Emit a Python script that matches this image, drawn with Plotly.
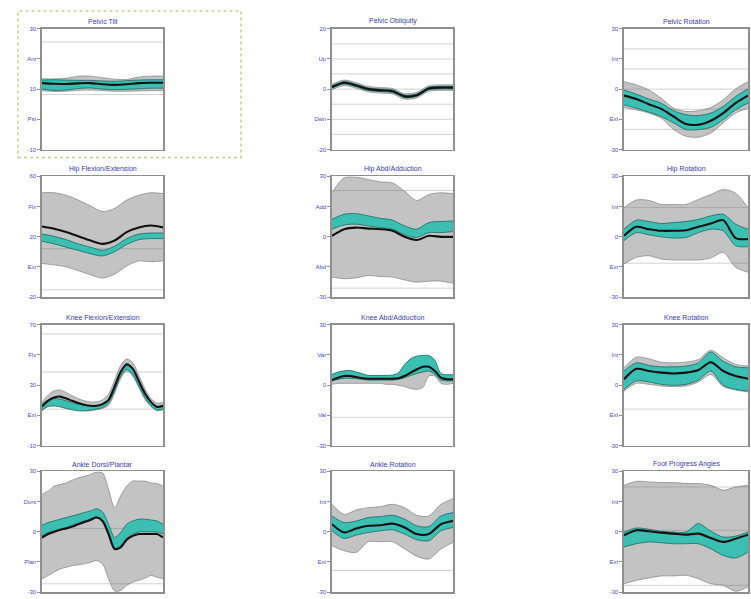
import plotly.graph_objects as go

# ---------------- x grids (% gait cycle) ----------------
x10 = [0, 10, 20, 30, 40, 50, 60, 70, 80, 90, 100]
x5 = [0, 5, 10, 15, 20, 25, 30, 35, 40, 45, 50, 55, 60, 65, 70, 75, 80, 85, 90, 95, 100]

titles = ["Pelvic Tilt", "Pelvic Obliquity", "Pelvic Rotation",
          "Hip Flexion/Extension", "Hip Abd/Adduction", "Hip Rotation",
          "Knee Flexion/Extension", "Knee Abd/Adduction", "Knee Rotation",
          "Ankle Dorsi/Plantar", "Ankle Rotation", "Foot Progress Angles"]

# ---------------- 1 Pelvic Tilt ----------------
tilt_range = [-10, 30]
tilt_ticktext = ["-10", "Pst", "10", "Ant", "30"]
tilt_grid = [25.6, 8.2]
tilt_gray_hi = [13.4, 13.4, 13.6, 14.3, 14.3, 13.8, 13.3, 13.2, 14.0, 14.3, 14.3]
tilt_gray_lo = [9.5, 9.2, 9.3, 9.6, 9.7, 9.5, 9.3, 9.3, 9.4, 9.5, 9.5]
tilt_teal_hi = [13.0, 13.1, 13.0, 12.9, 12.9, 12.7, 12.6, 12.8, 13.0, 13.1, 13.1]
tilt_teal_lo = [10.0, 9.6, 9.7, 10.2, 10.4, 10.0, 9.8, 9.9, 10.1, 10.3, 10.3]
tilt_mean = [12.0, 11.8, 11.7, 11.9, 12.0, 11.6, 11.4, 11.6, 12.0, 12.1, 12.1]

# ---------------- 2 Pelvic Obliquity ----------------
pobl_range = [-20, 20]
pobl_ticktext = ["-20", "Dwn", "0", "Up", "20"]
pobl_grid = [-15, -10, -5, 0, 5, 10, 15]
pobl_gray_hi = [1.6, 3.0, 2.1, 0.9, 0.5, 0.2, -1.5, -1.1, 1.1, 1.4, 1.4]
pobl_gray_lo = [-0.2, 1.2, 0.3, -0.9, -1.3, -1.6, -3.3, -2.9, -0.7, -0.4, -0.4]
pobl_teal_hi = [1.1, 2.5, 1.6, 0.4, 0.0, -0.3, -2.0, -1.6, 0.6, 0.9, 0.9]
pobl_teal_lo = [0.3, 1.7, 0.8, -0.4, -0.8, -1.1, -2.8, -2.4, -0.2, 0.1, 0.1]
pobl_mean = [0.7, 2.1, 1.2, 0.0, -0.4, -0.7, -2.4, -2.0, 0.2, 0.5, 0.5]

# ---------------- 3 Pelvic Rotation ----------------
prot_range = [-30, 30]
prot_ticktext = ["-30", "Ext", "0", "Int", "30"]
prot_grid = [-20, -10, 0, 10, 20]
prot_gray_hi = [3.7, 2.1, -0.4, -4.5, -9.5, -11.1, -10.7, -9.1, -5.3, 0.1, 3.7]
prot_gray_lo = [-9.1, -10.3, -11.9, -14.4, -20.1, -23.4, -23.9, -21.8, -16.8, -11.9, -9.5]
prot_teal_hi = [-0.4, -2.5, -4.9, -7.0, -10.7, -12.7, -13.1, -11.9, -8.6, -3.7, 0.1]
prot_teal_lo = [-7.8, -9.5, -11.4, -13.6, -16.8, -20.1, -20.1, -19.0, -15.2, -10.3, -7.0]
prot_mean = [-3.2, -4.9, -7.5, -9.8, -13.6, -17.3, -17.7, -15.7, -11.9, -6.9, -3.2]

# ---------------- 4 Hip Flexion/Extension ----------------
hflex_range = [-20, 60]
hflex_ticktext = ["-20", "Ext", "20", "Flx", "60"]
hflex_grid = [12.0, -15.2]
hflex_gray_hi = [49.1, 49.1, 47.4, 44.2, 40.4, 36.6, 38.7, 44.2, 47.4, 49.1, 48.5]
hflex_gray_lo = [2.2, 1.3, 0.0, -2.6, -5.2, -7.4, -4.8, 0.6, 3.9, 3.4, 3.9]
hflex_teal_hi = [21.7, 20.2, 18.0, 15.2, 13.0, 10.9, 13.7, 18.7, 21.7, 22.4, 22.4]
hflex_teal_lo = [17.0, 15.2, 13.0, 10.9, 8.7, 7.2, 10.0, 14.8, 18.0, 18.7, 18.7]
hflex_mean = [26.7, 25.2, 23.0, 20.2, 17.4, 15.2, 17.4, 23.0, 26.1, 27.4, 26.1]

# ---------------- 5 Hip Abd/Adduction ----------------
habd_range = [-30, 30]
habd_ticktext = ["-30", "Abd", "0", "Add", "30"]
habd_grid = [22.9, -25.6]
habd_gray_hi = [21.8, 29.2, 29.5, 28.4, 27.2, 26.7, 22.6, 18.0, 20.9, 21.8, 21.3]
habd_gray_lo = [-20.1, -20.9, -20.5, -19.3, -19.8, -20.1, -21.5, -22.6, -22.1, -22.1, -23.1]
habd_teal_hi = [8.6, 11.1, 11.4, 10.3, 9.1, 8.2, 5.3, 3.7, 7.0, 7.5, 7.8]
habd_teal_lo = [3.7, 5.8, 6.2, 5.3, 4.5, 3.7, 0.9, -0.4, 2.0, 2.0, 2.5]
habd_mean = [0.4, 3.7, 4.5, 4.0, 3.7, 2.9, -0.1, -1.7, 0.4, -0.1, -0.1]

# ---------------- 6 Hip Rotation ----------------
hrot_range = [-30, 30]
hrot_ticktext = ["-30", "Ext", "0", "Int", "30"]
hrot_grid = [14.4, -13.2]
hrot_gray_hi = [14.4, 18.2, 18.0, 16.0, 16.0, 16.0, 18.5, 20.9, 23.4, 21.6, 14.4]
hrot_gray_lo = [-13.6, -10.3, -9.5, -11.1, -11.6, -11.6, -11.6, -10.6, -7.8, -15.2, -17.7]
hrot_teal_hi = [3.7, 8.2, 7.5, 6.5, 7.0, 7.5, 8.6, 10.3, 11.1, 6.2, 3.7]
hrot_teal_lo = [-2.0, 2.0, 0.9, -0.1, -0.7, -0.4, 2.0, 3.7, 2.9, -4.5, -5.0]
hrot_mean = [0.4, 4.9, 3.7, 2.9, 2.9, 3.2, 4.9, 6.5, 8.2, -0.7, -1.2]

# ---------------- 7 Knee Flexion/Extension (5% steps) ----------------
kflex_range = [-10, 70]
kflex_ticktext = ["-10", "Ext", "30", "Flx", "70"]
kflex_grid = [63.9, 38.7, 14.1]
kflex_gray_hi = [18.9, 23.3, 26.2, 26.8, 25.1, 22.9, 21.1, 19.6, 18.9, 18.9, 20.2,
                 24.0, 33.4, 43.0, 47.4, 44.8, 36.5, 27.7, 21.1, 18.1, 18.5]
kflex_gray_lo = [13.0, 15.9, 16.3, 16.3, 15.2, 14.1, 13.7, 13.0, 13.0, 13.7, 14.5,
                 16.7, 24.6, 34.3, 39.3, 36.0, 28.4, 20.7, 15.9, 13.0, 13.7]
kflex_teal_hi = [17.4, 20.2, 21.1, 20.7, 19.6, 18.5, 17.4, 16.7, 16.3, 16.3, 17.4,
                 20.7, 29.5, 39.3, 44.4, 41.5, 33.4, 25.1, 18.9, 15.9, 16.3]
kflex_teal_lo = [13.7, 15.9, 16.3, 15.6, 14.5, 13.7, 13.0, 13.0, 13.5, 14.1, 15.2,
                 18.1, 26.2, 36.0, 40.4, 37.1, 29.5, 21.8, 16.3, 13.5, 14.1]
kflex_mean = [15.9, 19.6, 21.8, 22.4, 21.1, 19.6, 18.1, 17.0, 16.3, 16.3, 17.4,
              20.2, 29.0, 38.7, 43.7, 40.9, 32.7, 24.6, 18.9, 15.6, 16.3]

# ---------------- 8 Knee Abd/Adduction (5% steps) ----------------
kabd_range = [-30, 30]
kabd_ticktext = ["-30", "Val", "0", "Var", "30"]
kabd_grid = [-16.0]
kabd_gray_hi = [4.5, 5.8, 7.0, 7.0, 6.2, 5.3, 4.5, 4.5, 4.5, 4.5, 4.5,
                5.0, 6.2, 7.5, 9.1, 10.3, 10.8, 8.6, 4.5, 4.0, 4.0]
kabd_gray_lo = [0.4, 0.9, 0.9, 0.9, 0.9, 0.9, 0.9, 0.9, 0.9, 0.4, 0.4,
                -0.1, -0.7, -1.7, -2.1, -1.2, 4.5, 4.5, 0.9, 0.4, 0.9]
kabd_teal_hi = [5.3, 6.5, 7.0, 7.3, 6.5, 5.7, 4.8, 4.8, 4.8, 4.8, 5.0,
                6.2, 10.3, 13.1, 14.4, 14.7, 14.7, 12.4, 5.8, 5.2, 5.2]
kabd_teal_lo = [2.1, 2.9, 3.4, 3.4, 3.2, 2.9, 2.5, 2.5, 2.5, 2.5, 2.5,
                2.9, 3.7, 4.8, 5.8, 6.5, 7.0, 5.3, 2.5, 2.1, 2.1]
kabd_mean = [2.5, 3.7, 4.5, 4.5, 4.0, 3.4, 3.2, 3.2, 3.2, 3.2, 3.2,
             3.4, 4.5, 6.2, 7.8, 9.1, 9.1, 7.0, 3.7, 2.9, 2.9]

# ---------------- 9 Knee Rotation ----------------
krot_range = [-30, 30]
krot_ticktext = ["-30", "Ext", "0", "Int", "30"]
krot_grid = [-11.9]
krot_gray_hi = [8.6, 13.9, 13.1, 11.4, 11.1, 11.4, 12.7, 17.3, 13.6, 10.3, 9.5]
krot_gray_lo = [-2.9, 0.9, 0.4, -0.4, -0.7, -0.4, 1.6, 5.3, -0.7, -2.4, -3.4]
krot_teal_hi = [7.0, 11.1, 9.8, 9.1, 9.1, 9.5, 11.1, 16.4, 11.9, 9.1, 8.6]
krot_teal_lo = [-2.1, 2.1, 1.6, 0.4, -0.1, 0.4, 2.5, 7.0, -0.1, -2.1, -2.9]
krot_mean = [2.9, 8.1, 7.0, 6.2, 5.8, 6.2, 7.5, 11.4, 7.0, 4.5, 3.2]

# ---------------- 10 Ankle Dorsi/Plantar (5% steps) ----------------
ank_range = [-30, 30]
ank_ticktext = ["-30", "Plan", "0", "Dors", "30"]
ank_grid = [1.6, -25.9]
ank_gray_hi = [18.5, 20.1, 22.6, 23.4, 24.2, 25.6, 26.7, 27.5, 28.4, 29.5, 29.2,
               21.0, 11.9, 17.7, 22.6, 25.1, 25.1, 25.1, 24.2, 23.9, 22.6]
ank_gray_lo = [-23.4, -21.8, -20.1, -18.5, -17.7, -16.9, -16.5, -16.0, -15.2, -14.4, -16.0,
               -23.4, -29.5, -29.2, -26.7, -25.1, -24.2, -23.1, -21.8, -22.6, -23.4]
ank_teal_hi = [3.2, 4.5, 5.3, 6.2, 7.0, 7.8, 8.6, 9.5, 10.3, 11.4, 9.8,
               3.7, -2.9, -0.4, 3.7, 5.3, 6.2, 6.2, 5.8, 5.3, 3.7]
ank_teal_lo = [-2.1, -0.4, 0.4, 1.2, 2.1, 3.2, 4.2, 5.3, 6.2, 7.5, 5.8,
               -0.4, -8.3, -7.0, -3.4, -1.2, -0.1, -0.1, -0.1, -0.1, -1.2]
ank_mean = [-2.9, -1.2, -0.1, 0.9, 1.6, 2.5, 3.7, 4.8, 5.8, 7.0, 5.3,
            -1.2, -8.6, -7.8, -4.0, -2.1, -1.2, -1.2, -1.2, -1.2, -2.9]

# ---------------- 11 Ankle Rotation ----------------
arot_range = [-30, 30]
arot_ticktext = ["-30", "Ext", "0", "Int", "30"]
arot_grid = [-19.3]
arot_gray_hi = [13.6, 8.6, 10.8, 11.9, 12.4, 13.6, 11.9, 8.1, 7.8, 13.6, 16.4]
arot_gray_lo = [-7.0, -9.5, -10.3, -5.0, -5.0, -5.0, -8.6, -12.2, -13.6, -8.6, -5.3]
arot_teal_hi = [7.8, 4.5, 5.3, 7.0, 7.5, 8.1, 6.2, 2.9, 2.5, 7.8, 9.5]
arot_teal_lo = [0.4, -3.4, -1.7, -0.4, 0.4, 0.9, -1.2, -4.0, -4.5, 0.4, 2.1]
arot_mean = [3.7, -0.4, 1.6, 2.9, 3.2, 4.0, 2.1, -1.2, -1.2, 3.7, 5.3]

# ---------------- 12 Foot Progress Angles ----------------
fpa_range = [-30, 30]
fpa_ticktext = ["-30", "Ext", "0", "Int", "30"]
fpa_grid = [22.2, 0.7, -26.7]
fpa_gray_hi = [23.0, 25.0, 24.7, 24.4, 24.4, 23.9, 23.9, 23.0, 20.6, 22.2, 23.0]
fpa_gray_lo = [-25.9, -24.2, -23.0, -22.0, -22.0, -21.7, -23.4, -25.9, -26.7, -29.6, -27.5]
fpa_teal_hi = [-0.2, 1.8, 1.2, 0.2, -0.2, -0.2, 4.0, 0.2, -2.7, -2.2, -0.2]
fpa_teal_lo = [-7.6, -6.0, -5.1, -5.5, -6.0, -6.0, -6.0, -8.5, -11.8, -13.1, -10.1]
fpa_mean = [-1.8, 0.7, 0.2, -0.5, -1.0, -1.5, -1.0, -3.1, -5.1, -3.5, -1.5]

panels = [
    (x10, tilt_gray_hi, tilt_gray_lo, tilt_teal_hi, tilt_teal_lo, tilt_mean, tilt_range, tilt_ticktext, tilt_grid),
    (x10, pobl_gray_hi, pobl_gray_lo, pobl_teal_hi, pobl_teal_lo, pobl_mean, pobl_range, pobl_ticktext, pobl_grid),
    (x10, prot_gray_hi, prot_gray_lo, prot_teal_hi, prot_teal_lo, prot_mean, prot_range, prot_ticktext, prot_grid),
    (x10, hflex_gray_hi, hflex_gray_lo, hflex_teal_hi, hflex_teal_lo, hflex_mean, hflex_range, hflex_ticktext, hflex_grid),
    (x10, habd_gray_hi, habd_gray_lo, habd_teal_hi, habd_teal_lo, habd_mean, habd_range, habd_ticktext, habd_grid),
    (x10, hrot_gray_hi, hrot_gray_lo, hrot_teal_hi, hrot_teal_lo, hrot_mean, hrot_range, hrot_ticktext, hrot_grid),
    (x5, kflex_gray_hi, kflex_gray_lo, kflex_teal_hi, kflex_teal_lo, kflex_mean, kflex_range, kflex_ticktext, kflex_grid),
    (x5, kabd_gray_hi, kabd_gray_lo, kabd_teal_hi, kabd_teal_lo, kabd_mean, kabd_range, kabd_ticktext, kabd_grid),
    (x10, krot_gray_hi, krot_gray_lo, krot_teal_hi, krot_teal_lo, krot_mean, krot_range, krot_ticktext, krot_grid),
    (x5, ank_gray_hi, ank_gray_lo, ank_teal_hi, ank_teal_lo, ank_mean, ank_range, ank_ticktext, ank_grid),
    (x10, arot_gray_hi, arot_gray_lo, arot_teal_hi, arot_teal_lo, arot_mean, arot_range, arot_ticktext, arot_grid),
    (x10, fpa_gray_hi, fpa_gray_lo, fpa_teal_hi, fpa_teal_lo, fpa_mean, fpa_range, fpa_ticktext, fpa_grid),
]

# ---------------- layout geometry (pixels) ----------------
W, H = 751, 599
col_px = [(42, 163), (332, 453), (624, 748)]
row_px = [(26, 148), (175, 297), (325, 447), (473, 595)]

GRAY_FILL = "rgba(105,105,105,0.40)"
GRAY_EDGE = "#808080"
TEAL_FILL = "#3bbfb2"
TEAL_EDGE = "#1f746c"
GRID_COL = "#d2d2d2"
TITLE_COL = "#3a3aa8"
FONT = "Liberation Sans, Arial, sans-serif"

fig = go.Figure()
layout = {}
annotations = []

for i, (xs, ghi, glo, thi, tlo, mean, rng, ttext, grid) in enumerate(panels):
    r, c = divmod(i, 3)
    n = i + 1
    xa = "x" if n == 1 else f"x{n}"
    ya = "y" if n == 1 else f"y{n}"
    common = dict(xaxis=xa, yaxis=ya, showlegend=False, hoverinfo="skip")
    spl = dict(shape="spline", smoothing=0.8)

    for g in grid:
        fig.add_trace(go.Scatter(x=[xs[0], xs[-1]], y=[g, g], mode="lines",
                                 line=dict(color=GRID_COL, width=1), **common))
    fig.add_trace(go.Scatter(x=xs, y=glo, mode="lines",
                             line=dict(color=GRAY_EDGE, width=0.7, **spl), **common))
    fig.add_trace(go.Scatter(x=xs, y=ghi, mode="lines", fill="tonexty", fillcolor=GRAY_FILL,
                             line=dict(color=GRAY_EDGE, width=0.7, **spl), **common))
    fig.add_trace(go.Scatter(x=xs, y=tlo, mode="lines",
                             line=dict(color=TEAL_EDGE, width=0.9, **spl), **common))
    fig.add_trace(go.Scatter(x=xs, y=thi, mode="lines", fill="tonexty", fillcolor=TEAL_FILL,
                             line=dict(color=TEAL_EDGE, width=0.9, **spl), **common))
    fig.add_trace(go.Scatter(x=xs, y=mean, mode="lines",
                             line=dict(color="#111111", width=2.1, **spl), **common))

    x0p, x1p = col_px[c]
    t, b = row_px[r]
    xdom = [x0p / W, x1p / W]
    ydom = [1 - b / H, 1 - t / H]
    lo, hi = rng
    tickvals = [lo + k * (hi - lo) / 4 for k in range(5)]

    xname = "xaxis" if n == 1 else f"xaxis{n}"
    yname = "yaxis" if n == 1 else f"yaxis{n}"
    layout[xname] = dict(domain=xdom, anchor=ya, range=[0, 100], showgrid=False,
                         zeroline=False, showticklabels=False, ticks="",
                         showline=True, linecolor="#8f8f8f", linewidth=1.6, mirror=True)
    layout[yname] = dict(domain=ydom, anchor=xa, range=[lo, hi], showgrid=False,
                         zeroline=False, tickvals=tickvals, ticktext=ttext,
                         ticks="outside", ticklen=3, tickcolor="#8f8f8f",
                         tickfont=dict(size=6, color="#4a4ab8", family=FONT),
                         showline=True, linecolor="#8f8f8f", linewidth=1.6, mirror=True)
    annotations.append(dict(text=titles[i], x=(xdom[0] + xdom[1]) / 2, y=ydom[1] + 1.5 / H,
                            xref="paper", yref="paper", xanchor="center", yanchor="bottom",
                            showarrow=False, font=dict(size=7, color=TITLE_COL, family=FONT)))

fig.update_layout(
    width=W, height=H,
    margin=dict(l=0, r=0, t=0, b=0),
    paper_bgcolor="white", plot_bgcolor="white",
    showlegend=False,
    hovermode=False,
    annotations=annotations,
    shapes=[dict(type="rect", xref="paper", yref="paper",
                 x0=18 / W, x1=241 / W, y0=1 - 156 / H, y1=1 - 8 / H,
                 line=dict(color="#c9c98e", width=1.5, dash="dot"))],
    **layout,
)

fig.write_html(
    "out.html",
    config={"displayModeBar": False, "staticPlot": True},
    post_script="document.body.style.margin='0';document.body.style.padding='0';"
                "document.documentElement.style.margin='0';",
)
